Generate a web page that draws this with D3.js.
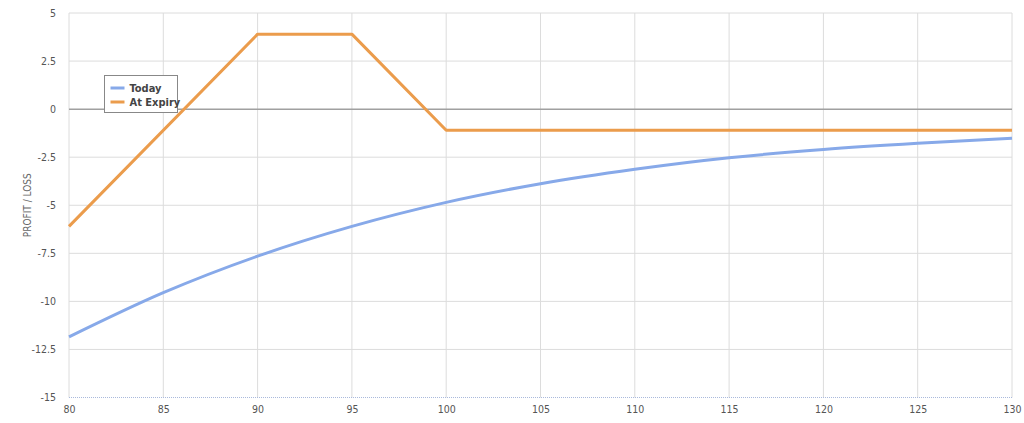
<!DOCTYPE html>
<html><head><meta charset="utf-8">
<script src="https://cdn.jsdelivr.net/npm/d3@7"></script>
<style>
body{margin:0;background:#fff;}
svg{display:block;}
text{font-family:"DejaVu Sans Condensed","DejaVu Sans",sans-serif;font-stretch:condensed;}
</style></head>
<body><svg id="c" width="1024" height="423"></svg>
<script>
const prices = [80, 85, 90, 95, 100, 105, 110, 115, 120, 125, 130];
const today = [-11.85, -9.55, -7.65, -6.1, -4.85, -3.88, -3.13, -2.53, -2.1, -1.78, -1.52];
const expiryPrices = [80, 90, 95, 100, 130];
const expiry = [-6.1, 3.9, 3.9, -1.1, -1.1];
const xTicks = [80, 85, 90, 95, 100, 105, 110, 115, 120, 125, 130];
const yTicks = [5, 2.5, 0, -2.5, -5, -7.5, -10, -12.5, -15];
const seriesNames = ["Today", "At Expiry"];
const colors = ["#87a9e9", "#eb9c4c"];

const svg = d3.select("#c");
const x = d3.scaleLinear().domain([80, 130]).range([69, 1012]);
const y = d3.scaleLinear().domain([-15, 5]).range([397.5, 13]);

svg.append("g").selectAll("line").data(yTicks.filter(d => d !== 0 && d !== -15)).join("line")
  .attr("x1", x(80)).attr("x2", x(130)).attr("y1", d => y(d)).attr("y2", d => y(d))
  .attr("stroke", "#dcdcdc").attr("stroke-width", 1);
svg.append("g").selectAll("line").data(xTicks).join("line")
  .attr("x1", d => x(d)).attr("x2", d => x(d)).attr("y1", y(5)).attr("y2", y(-15))
  .attr("stroke", "#dcdcdc").attr("stroke-width", 1);
svg.append("line").attr("x1", x(80)).attr("x2", x(130)).attr("y1", y(-15)).attr("y2", y(-15))
  .attr("stroke", "#a9b9dc").attr("stroke-width", 1).attr("stroke-dasharray", "1,1");
svg.append("line").attr("x1", x(80)).attr("x2", x(130)).attr("y1", y(0)).attr("y2", y(0))
  .attr("stroke", "#a0a0a0").attr("stroke-width", 1.5);

const yAxis = d3.axisLeft(y).tickValues(yTicks).tickSize(0).tickPadding(13).tickFormat(d => String(d));
const gy = svg.append("g").attr("transform", `translate(${x(80)},0)`).call(yAxis);
gy.select(".domain").remove();
gy.selectAll("text").attr("font-size", 10.5).attr("fill", "#555");

const xAxis = d3.axisBottom(x).tickValues(xTicks).tickSize(0).tickPadding(8).tickFormat(d => String(d));
const gx = svg.append("g").attr("transform", `translate(0,${y(-15)})`).call(xAxis);
gx.select(".domain").remove();
gx.selectAll("text").attr("font-size", 10.5).attr("fill", "#555");

svg.append("text").attr("transform", `translate(31,${(y(5)+y(-15))/2}) rotate(-90)`)
  .attr("text-anchor", "middle").attr("font-size", 10).attr("fill", "#666").text("PROFIT / LOSS");

const lineToday = d3.line().x((d, i) => x(prices[i])).y(d => y(d)).curve(d3.curveMonotoneX);
svg.append("path").attr("d", lineToday(today)).attr("fill", "none")
  .attr("stroke", colors[0]).attr("stroke-width", 3);
const lineExp = d3.line().x((d, i) => x(expiryPrices[i])).y(d => y(d));
svg.append("path").attr("d", lineExp(expiry)).attr("fill", "none")
  .attr("stroke", colors[1]).attr("stroke-width", 3).attr("stroke-linejoin", "round");

const lg = svg.append("g").attr("transform", "translate(104.5,75.5)");
lg.append("rect").attr("width", 73).attr("height", 37).attr("fill", "#fff")
  .attr("stroke", "#888").attr("stroke-width", 1);
seriesNames.forEach((n, i) => {
  const yy = 12.5 + i * 14;
  lg.append("line").attr("x1", 6).attr("x2", 20).attr("y1", yy).attr("y2", yy)
    .attr("stroke", colors[i]).attr("stroke-width", 3);
  lg.append("text").attr("x", 25).attr("y", yy + 4).attr("font-size", 11)
    .attr("font-weight", "bold").attr("fill", "#444").text(n);
});
</script></body></html>
